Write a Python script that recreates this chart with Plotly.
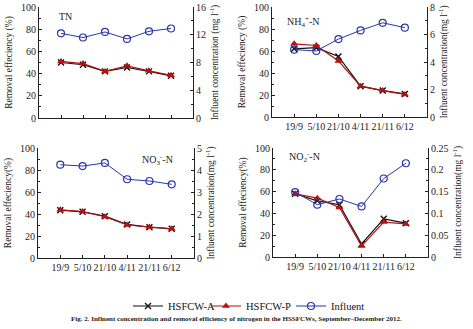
import plotly.graph_objects as go

dates = ["19/9", "5/10", "21/10", "4/11", "21/11", "6/12"]

tn_a = [50, 48, 42, 45.5, 42, 38]
tn_p = [51, 49, 42, 47, 42.5, 38.5]
tn_inf = [12.2, 11.6, 12.4, 11.4, 12.5, 12.9]

nh4_a = [62, 63, 55, 28, 24, 21]
nh4_p = [66.5, 65, 51, 28, 24, 20.5]
nh4_inf = [4.9, 4.8, 5.67, 6.3, 6.85, 6.5]

no3_a = [43.5, 42, 38, 30.5, 28, 26.5]
no3_p = [43.8, 42.3, 37.5, 30, 28.2, 26.6]
no3_inf = [4.24, 4.18, 4.32, 3.58, 3.5, 3.35]

no2_a = [58, 51.5, 48, 12, 35, 31]
no2_p = [58, 54, 45.5, 10, 32, 30.3]
no2_inf = [0.149, 0.12, 0.133, 0.116, 0.18, 0.215]

W, H = 473, 329
FONT = "Liberation Serif"
BLUE = "#2B35A8"
RED = "#B80F0F"

panels = [
    dict(a=tn_a, p=tn_p, inf=tn_inf, rmax=16, rdt=4, rminor=2,
         box=(39, 193, 7, 118), label="TN", lab_xy=(57, 17), showx=False,
         ltitle="Removal effeciency (%)", rtitle="Influent concentration (mg l<sup>-1</sup>)"),
    dict(a=nh4_a, p=nh4_p, inf=nh4_inf, rmax=8, rdt=2, rminor=1,
         box=(272, 427, 7, 117), label="NH<sub>4</sub><sup>+</sup>-N", lab_xy=(285, 22), showx=True,
         ltitle="Removal effeciency (%)", rtitle="Influent concentration(mg l<sup>-1</sup>)"),
    dict(a=no3_a, p=no3_p, inf=no3_inf, rmax=5, rdt=1, rminor=0.5,
         box=(38, 194, 148, 258), label="NO<sub>3</sub><sup>-</sup>-N", lab_xy=(140, 160), showx=True,
         ltitle="Removal effeciency(%)", rtitle="Influent concentration(mg l<sup>-1</sup>)"),
    dict(a=no2_a, p=no2_p, inf=no2_inf, rmax=0.25, rdt=0.05, rminor=0.025,
         box=(273, 428, 148, 257), label="NO<sub>2</sub><sup>-</sup>-N", lab_xy=(287, 157), showx=True,
         ltitle="Removal effeciency(%)", rtitle="Influent concentration(mg l<sup>-1</sup>)"),
]

fig = go.Figure()


def legend_at(px):
    return dict(orientation="h", x=px / W, xanchor="left", y=1 - 306 / H, yanchor="middle",
                font=dict(family=FONT, size=10.5, color="#111"), itemwidth=30,
                bgcolor="rgba(0,0,0,0)", borderwidth=0)


layout = dict(
    width=W, height=H, margin=dict(l=0, r=0, t=0, b=0),
    paper_bgcolor="white", plot_bgcolor="white",
    font=dict(family=FONT, size=10, color="#222"),
    showlegend=True,
    legend=legend_at(128), legend2=legend_at(206), legend3=legend_at(291),
)
annotations = []

for i, pn in enumerate(panels):
    n = i + 1
    xn = "x" if n == 1 else f"x{n}"
    yl = "y" if n == 1 else f"y{n}"
    yr = f"y{n + 4}"
    x0, x1, y0, y1 = pn["box"]
    xdom = [x0 / W, x1 / W]
    ydom = [1 - y1 / H, 1 - y0 / H]
    xkey = "xaxis" if n == 1 else f"xaxis{n}"
    ylkey = "yaxis" if n == 1 else f"yaxis{n}"
    yrkey = f"yaxis{n + 4}"
    layout[xkey] = dict(domain=xdom, anchor=yl, type="category", range=[-1, 6],
                        showline=True, linecolor="#222", linewidth=1, mirror=False,
                        ticks="inside", ticklen=3, tickcolor="#222", showgrid=False,
                        tickangle=0, automargin=False,
                        showticklabels=pn["showx"], tickfont=dict(family=FONT, size=10, color="#222"),
                        zeroline=False)
    layout[ylkey] = dict(domain=ydom, anchor=xn, range=[0, 100], dtick=20, tick0=0,
                         showline=True, linecolor="#222", linewidth=1, ticks="inside", ticklen=3,
                         tickcolor="#222", showgrid=False, zeroline=False, automargin=False,
                         minor=dict(dtick=10, ticks="inside", ticklen=2, tickcolor="#222", showgrid=False),
                         tickfont=dict(family=FONT, size=10, color="#222"),
                         title=dict(text=pn["ltitle"], font=dict(family=FONT, size=9.5, color="#222"), standoff=6))
    layout[yrkey] = dict(domain=ydom, anchor=xn, overlaying=yl, side="right",
                         range=[0, pn["rmax"]], dtick=pn["rdt"], tick0=0,
                         showline=True, linecolor="#222", linewidth=1, ticks="inside", ticklen=3,
                         tickcolor="#222", showgrid=False, zeroline=False, automargin=False,
                         minor=dict(dtick=pn["rminor"], ticks="inside", ticklen=2, tickcolor="#222", showgrid=False),
                         tickfont=dict(family=FONT, size=10, color="#222"),
                         title=dict(text=pn["rtitle"], font=dict(family=FONT, size=9.5, color="#222"), standoff=6))

    fig.add_trace(go.Scatter(x=dates, y=pn["a"], xaxis=xn, yaxis=yl, mode="lines+markers",
                             name="HSFCW-A", showlegend=(n == 1), legendgroup="a", legend="legend",
                             line=dict(color="#111", width=1.2),
                             marker=dict(symbol="x-thin", size=6, line=dict(color="#111", width=1.4))))
    fig.add_trace(go.Scatter(x=dates, y=pn["p"], xaxis=xn, yaxis=yl, mode="lines+markers",
                             name="HSFCW-P", showlegend=(n == 1), legendgroup="p", legend="legend2",
                             line=dict(color=RED, width=1.2),
                             marker=dict(symbol="triangle-up", size=7, color=RED)))
    fig.add_trace(go.Scatter(x=dates, y=pn["inf"], xaxis=xn, yaxis=yr, mode="lines+markers",
                             name="Influent", showlegend=(n == 1), legendgroup="i", legend="legend3",
                             line=dict(color=BLUE, width=1),
                             marker=dict(symbol="circle-open", size=7, color=BLUE, line=dict(width=1.2))))
    lx, ly = pn["lab_xy"]
    annotations.append(dict(xref="paper", yref="paper", x=lx / W, y=1 - ly / H,
                            xanchor="left", yanchor="middle", showarrow=False,
                            text=pn["label"], font=dict(family=FONT, size=10, color="#222")))

annotations.append(dict(xref="paper", yref="paper", x=0.5, y=1 - 319 / H, xanchor="center",
                        yanchor="middle", showarrow=False,
                        text="<b>Fig. 2. Influent concentration and removal efficiency of nitrogen in the HSSFCWs, September–December 2012.</b>",
                        font=dict(family=FONT, size=7, color="#222")))
layout["annotations"] = annotations
fig.update_layout(**layout)
fig.write_html("out.html")
